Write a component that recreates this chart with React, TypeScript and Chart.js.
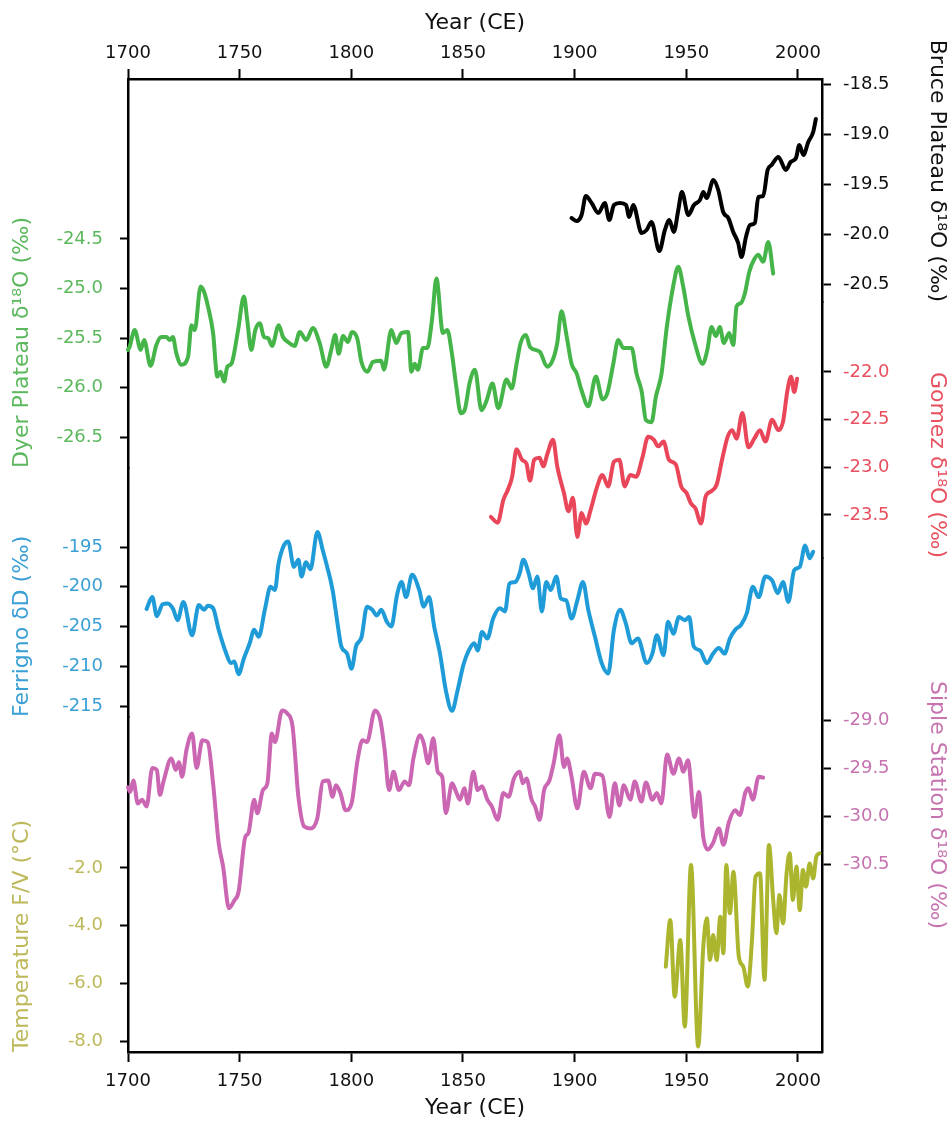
import React, { useEffect, useRef } from "react";
import { Chart, registerables } from "chart.js";

Chart.register(...registerables);

const FONT = "'DejaVu Sans', Verdana, sans-serif";

const yearTicks = [1700, 1750, 1800, 1850, 1900, 1950, 2000];
const bruceTicks = [-18.5, -19.0, -19.5, -20.0, -20.5];
const dyerTicks = [-24.5, -25.0, -25.5, -26.0, -26.5];
const gomezTicks = [-22.0, -22.5, -23.0, -23.5];
const ferrignoTicks = [-195, -200, -205, -210, -215];
const sipleTicks = [-29.0, -29.5, -30.0, -30.5];
const tempTicks = [-2.0, -4.0, -6.0, -8.0];

const bruceYears = [1898.6, 1900.9, 1903.1, 1905.0, 1907.6, 1910.6, 1913.5, 1915.5, 1917.6, 1920.3, 1923.0, 1924.4, 1926.2, 1930.0, 1932.2, 1934.4, 1937.9, 1940.4, 1942.4, 1944.4, 1946.4, 1948.0, 1950.9, 1953.4, 1956.1, 1957.6, 1959.1, 1962.1, 1964.3, 1966.5, 1968.8, 1971.0, 1973.2, 1974.7, 1976.7, 1978.5, 1980.7, 1982.2, 1984.4, 1986.4, 1988.2, 1991.2, 1994.6, 1996.7, 1999.1, 2000.6, 2002.4, 2004.6, 2006.8, 2008.0];
const bruceValues = [-19.84, -19.87, -19.81, -19.62, -19.69, -19.79, -19.69, -19.86, -19.71, -19.69, -19.71, -19.83, -19.71, -19.99, -19.96, -19.88, -20.17, -19.96, -19.86, -19.98, -19.76, -19.58, -19.81, -19.71, -19.66, -19.58, -19.64, -19.46, -19.56, -19.78, -19.84, -19.98, -20.09, -20.23, -20.03, -19.91, -19.89, -19.63, -19.62, -19.36, -19.31, -19.23, -19.36, -19.28, -19.24, -19.11, -19.21, -19.08, -18.98, -18.85];

const dyerYears = [1700.0, 1700.7, 1703.0, 1705.7, 1707.2, 1710.1, 1712.7, 1714.9, 1717.2, 1718.7, 1720.1, 1721.6, 1723.9, 1726.9, 1728.4, 1729.9, 1732.5, 1734.0, 1735.8, 1738.1, 1740.0, 1741.5, 1743.0, 1744.5, 1746.3, 1749.3, 1751.9, 1753.4, 1755.2, 1757.0, 1759.0, 1760.9, 1762.7, 1764.5, 1767.5, 1769.4, 1771.6, 1774.6, 1776.9, 1779.8, 1782.8, 1785.8, 1788.8, 1791.0, 1792.8, 1794.3, 1796.3, 1798.5, 1800.3, 1802.7, 1804.5, 1807.2, 1809.7, 1813.4, 1814.6, 1817.9, 1820.1, 1822.4, 1825.4, 1826.9, 1828.4, 1829.8, 1832.1, 1834.0, 1836.1, 1838.1, 1841.0, 1843.0, 1844.8, 1847.0, 1849.0, 1850.7, 1853.0, 1855.3, 1858.3, 1860.6, 1863.2, 1865.8, 1869.5, 1871.8, 1874.0, 1875.8, 1878.2, 1880.0, 1884.4, 1887.7, 1890.4, 1892.2, 1894.1, 1896.4, 1898.6, 1900.9, 1903.1, 1906.1, 1909.5, 1912.5, 1914.6, 1917.3, 1919.5, 1921.8, 1925.5, 1927.7, 1930.0, 1931.9, 1934.4, 1936.4, 1938.9, 1941.2, 1944.1, 1946.4, 1948.6, 1950.9, 1953.8, 1957.3, 1959.4, 1961.3, 1963.2, 1965.0, 1966.8, 1969.2, 1971.0, 1972.5, 1974.3, 1976.2, 1978.2, 1980.3, 1982.2, 1984.4, 1986.7, 1988.9];
const dyerValues = [-25.62, -25.59, -25.42, -25.62, -25.52, -25.78, -25.57, -25.49, -25.49, -25.52, -25.49, -25.65, -25.77, -25.69, -25.37, -25.42, -24.98, -25.03, -25.18, -25.45, -25.89, -25.84, -25.94, -25.79, -25.76, -25.42, -25.08, -25.32, -25.62, -25.42, -25.35, -25.49, -25.50, -25.58, -25.37, -25.49, -25.54, -25.58, -25.44, -25.52, -25.40, -25.55, -25.79, -25.62, -25.47, -25.66, -25.48, -25.54, -25.44, -25.51, -25.74, -25.84, -25.74, -25.73, -25.82, -25.42, -25.55, -25.45, -25.44, -25.84, -25.76, -25.82, -25.60, -25.60, -25.32, -24.90, -25.45, -25.42, -25.62, -25.99, -26.26, -26.23, -25.95, -25.82, -26.23, -26.13, -25.96, -26.21, -25.92, -26.01, -25.76, -25.55, -25.47, -25.59, -25.64, -25.79, -25.71, -25.55, -25.23, -25.48, -25.76, -25.86, -26.03, -26.19, -25.89, -26.12, -26.06, -25.76, -25.52, -25.60, -25.60, -25.86, -26.04, -26.33, -26.35, -26.09, -25.86, -25.40, -24.98, -24.78, -24.98, -25.28, -25.55, -25.76, -25.62, -25.39, -25.48, -25.39, -25.55, -25.45, -25.57, -25.18, -25.15, -25.05, -24.83, -24.71, -24.66, -24.73, -24.53, -24.85];

const gomezYears = [1862.5, 1865.5, 1868.1, 1870.0, 1872.0, 1874.0, 1876.4, 1878.4, 1880.0, 1881.9, 1884.3, 1885.9, 1887.9, 1890.3, 1892.2, 1895.2, 1897.2, 1899.2, 1901.2, 1903.1, 1905.1, 1907.1, 1910.1, 1912.4, 1915.0, 1917.6, 1920.0, 1922.4, 1924.9, 1927.5, 1930.3, 1932.9, 1935.4, 1937.4, 1939.8, 1942.2, 1945.3, 1947.7, 1950.1, 1952.1, 1954.1, 1956.6, 1958.6, 1961.2, 1963.6, 1966.0, 1968.5, 1970.5, 1972.5, 1975.1, 1977.8, 1980.4, 1983.0, 1985.4, 1988.4, 1991.3, 1993.3, 1995.3, 1996.9, 1998.3, 1999.6];
const gomezValues = [-23.52, -23.58, -23.34, -23.24, -23.10, -22.81, -22.92, -22.96, -23.14, -22.92, -22.90, -22.99, -22.85, -22.71, -22.99, -23.27, -23.46, -23.32, -23.73, -23.48, -23.59, -23.45, -23.20, -23.08, -23.20, -22.94, -22.92, -23.20, -23.08, -23.10, -22.90, -22.68, -22.71, -22.78, -22.73, -22.92, -22.97, -23.20, -23.27, -23.38, -23.43, -23.59, -23.31, -23.25, -23.18, -22.92, -22.68, -22.61, -22.70, -22.43, -22.79, -22.70, -22.61, -22.73, -22.50, -22.61, -22.52, -22.19, -22.05, -22.21, -22.07];

const ferrignoYears = [1708.3, 1710.9, 1712.9, 1715.5, 1717.8, 1720.2, 1722.2, 1724.8, 1728.7, 1731.7, 1734.1, 1735.7, 1738.1, 1740.6, 1744.0, 1746.0, 1747.6, 1749.5, 1751.9, 1754.5, 1756.5, 1758.5, 1761.4, 1763.8, 1765.8, 1767.4, 1769.8, 1771.7, 1774.3, 1776.3, 1777.7, 1779.7, 1781.7, 1784.8, 1787.2, 1789.2, 1791.6, 1793.5, 1795.5, 1798.1, 1800.1, 1802.1, 1804.6, 1807.0, 1809.4, 1811.4, 1813.4, 1815.9, 1817.9, 1820.5, 1822.5, 1824.5, 1827.2, 1830.4, 1832.4, 1834.8, 1837.1, 1839.7, 1842.3, 1845.1, 1847.6, 1850.2, 1852.6, 1855.0, 1856.6, 1858.5, 1860.9, 1863.5, 1866.5, 1868.8, 1870.8, 1873.4, 1875.4, 1877.0, 1879.4, 1881.3, 1883.3, 1885.3, 1887.3, 1889.3, 1891.8, 1893.8, 1896.2, 1898.6, 1901.2, 1903.7, 1906.1, 1909.1, 1912.1, 1915.0, 1917.6, 1920.4, 1922.9, 1925.5, 1928.3, 1932.3, 1934.8, 1936.8, 1939.8, 1941.8, 1944.2, 1946.7, 1949.3, 1951.3, 1953.3, 1956.1, 1959.2, 1962.0, 1964.6, 1967.1, 1969.5, 1971.9, 1974.5, 1977.1, 1979.8, 1982.4, 1985.4, 1988.4, 1990.9, 1993.3, 1995.7, 1998.3, 2000.8, 2003.2, 2005.2, 2006.8];
const ferrignoValues = [-202.8, -201.3, -203.7, -202.2, -202.1, -202.8, -204.2, -201.9, -206.1, -202.3, -202.9, -202.4, -202.7, -205.4, -208.4, -209.6, -209.4, -211.0, -209.0, -207.1, -205.4, -206.3, -202.7, -200.0, -200.4, -197.1, -194.8, -194.3, -197.5, -196.6, -198.7, -196.9, -197.8, -193.1, -195.4, -197.5, -200.4, -204.0, -207.5, -208.4, -210.3, -207.5, -206.3, -202.5, -202.9, -203.6, -202.9, -204.4, -205.0, -201.0, -199.4, -201.3, -198.5, -200.4, -202.5, -201.3, -205.0, -208.4, -213.0, -215.6, -213.0, -209.8, -208.0, -207.1, -208.0, -205.7, -206.5, -204.0, -202.7, -203.1, -199.6, -199.4, -198.3, -196.6, -198.3, -200.2, -198.7, -203.1, -199.4, -200.4, -198.7, -201.5, -201.7, -204.0, -201.7, -199.4, -202.9, -206.3, -209.6, -210.9, -205.4, -202.9, -204.6, -207.1, -206.5, -209.6, -208.4, -206.1, -208.6, -204.4, -205.9, -203.8, -204.2, -203.8, -207.5, -208.0, -209.6, -208.4, -207.7, -208.4, -206.5, -205.4, -204.8, -203.3, -200.0, -201.3, -198.7, -199.2, -200.8, -199.4, -201.9, -197.9, -197.5, -194.8, -196.4, -195.6];

const sipleYears = [1700.0, 1701.0, 1702.4, 1704.4, 1706.3, 1708.3, 1710.9, 1712.9, 1714.3, 1715.9, 1719.4, 1721.4, 1722.8, 1724.2, 1726.2, 1728.7, 1730.7, 1733.3, 1735.7, 1738.1, 1740.6, 1742.6, 1745.2, 1747.6, 1749.5, 1752.5, 1753.9, 1756.5, 1757.9, 1760.4, 1762.4, 1764.4, 1765.8, 1769.0, 1771.3, 1773.7, 1776.3, 1778.9, 1781.7, 1784.8, 1787.2, 1789.6, 1791.6, 1793.1, 1795.1, 1797.5, 1800.1, 1802.7, 1805.0, 1807.0, 1810.6, 1813.0, 1814.9, 1816.9, 1818.9, 1821.3, 1823.9, 1825.8, 1827.8, 1830.8, 1832.4, 1834.4, 1836.7, 1838.7, 1840.7, 1842.3, 1845.1, 1847.1, 1848.6, 1850.6, 1852.2, 1854.6, 1856.6, 1858.5, 1860.9, 1862.9, 1865.5, 1868.1, 1870.4, 1872.8, 1875.4, 1876.8, 1878.4, 1880.7, 1882.3, 1884.3, 1886.3, 1888.7, 1890.6, 1893.2, 1895.2, 1896.6, 1898.6, 1901.2, 1904.1, 1907.1, 1909.1, 1912.4, 1915.6, 1918.0, 1920.0, 1922.0, 1924.9, 1926.9, 1929.9, 1931.9, 1934.8, 1936.8, 1938.8, 1941.4, 1944.2, 1946.7, 1948.7, 1950.7, 1953.7, 1955.6, 1957.6, 1959.6, 1962.0, 1964.6, 1966.6, 1969.1, 1971.9, 1973.9, 1976.5, 1977.8, 1979.8, 1982.4, 1984.4];
const sipleValues = [-29.70, -29.75, -29.63, -29.87, -29.83, -29.90, -29.50, -29.52, -29.78, -29.64, -29.40, -29.52, -29.44, -29.59, -29.31, -29.14, -29.50, -29.21, -29.23, -29.66, -30.28, -30.53, -30.96, -30.88, -30.79, -30.22, -30.18, -29.83, -29.97, -29.73, -29.66, -29.14, -29.23, -28.90, -28.93, -29.07, -29.80, -30.11, -30.13, -30.02, -29.64, -29.63, -29.80, -29.68, -29.76, -29.94, -29.87, -29.43, -29.21, -29.23, -28.90, -29.00, -29.31, -29.73, -29.54, -29.73, -29.64, -29.68, -29.40, -29.16, -29.24, -29.45, -29.19, -29.54, -29.59, -29.97, -29.66, -29.76, -29.83, -29.71, -29.87, -29.54, -29.73, -29.69, -29.83, -29.90, -30.04, -29.76, -29.80, -29.61, -29.54, -29.66, -29.61, -29.83, -29.90, -30.04, -29.73, -29.63, -29.45, -29.16, -29.49, -29.40, -29.59, -29.92, -29.54, -29.71, -29.56, -29.58, -30.01, -29.66, -29.89, -29.68, -29.83, -29.64, -29.85, -29.65, -29.83, -29.76, -29.87, -29.36, -29.56, -29.40, -29.54, -29.42, -30.01, -29.75, -30.22, -30.35, -30.28, -30.13, -30.30, -30.06, -29.94, -29.99, -29.75, -29.71, -29.83, -29.59, -29.60];

const tempYears = [1940.8, 1942.8, 1944.8, 1947.3, 1949.3, 1952.1, 1955.3, 1957.6, 1959.2, 1960.6, 1962.0, 1963.6, 1965.2, 1966.6, 1967.9, 1969.5, 1971.1, 1973.5, 1975.5, 1977.5, 1979.4, 1981.0, 1983.0, 1985.0, 1987.0, 1988.9, 1990.3, 1991.7, 1993.3, 1994.9, 1996.3, 1997.7, 1999.3, 2000.8, 2002.2, 2003.6, 2005.2, 2006.8, 2008.2, 2009.6];
const tempValues = [-5.42, -3.80, -6.46, -4.50, -7.50, -1.90, -8.19, -4.73, -3.74, -5.19, -4.32, -5.19, -3.69, -4.96, -1.90, -3.57, -2.13, -5.07, -5.42, -6.11, -4.50, -2.30, -2.18, -5.88, -1.20, -3.11, -4.26, -2.94, -3.92, -2.18, -1.49, -3.11, -1.95, -3.46, -2.07, -2.65, -1.84, -2.36, -1.61, -1.49];

const toPoints = (xs: number[], ys: number[]) => xs.map((x, i) => ({ x, y: ys[i] }));

function yAxis(p: any) {
  return {
    type: "linear",
    position: p.position,
    stack: p.stackName,
    stackWeight: p.stackWeight,
    weight: p.weight,
    min: p.min,
    max: p.max,
    clip: false,
    afterBuildTicks: (s: any) => {
      s.ticks = p.ticks.map((v: number) => ({ value: v }));
    },
    afterFit: (s: any) => {
      s.width = 128;
    },
    ticks: {
      color: p.color,
      font: { family: FONT, size: 18 },
      padding: p.position === "left" ? 17 : 12,
      autoSkip: false,
      callback: (v: any) => Number(v).toFixed(p.decimals),
    },
    grid: {
      drawOnChartArea: false,
      drawTicks: true,
      tickLength: p.position === "left" ? 8 : 9,
      tickColor: "#000",
      tickWidth: 2,
    },
    border: { display: true, color: "#000", width: 2.5 },
    title: {
      display: true,
      text: p.title,
      color: p.color,
      align: p.align,
      font: { family: FONT, size: 22 },
      padding: p.position === "left" ? { top: 9, bottom: 0 } : { top: 0, bottom: 0 },
    },
  };
}

function xAxis(position: string, height: number, tickPad: number, titlePad: any) {
  return {
    type: "linear",
    position,
    min: 1700,
    max: 2010.75,
    afterBuildTicks: (s: any) => {
      s.ticks = yearTicks.map((v) => ({ value: v }));
    },
    afterFit: (s: any) => {
      s.height = height;
    },
    ticks: {
      color: "#111",
      font: { family: FONT, size: 18 },
      padding: tickPad,
      maxRotation: 0,
      autoSkip: false,
      callback: (v: any) => String(v),
    },
    grid: { drawOnChartArea: false, drawTicks: true, tickLength: 10, tickColor: "#000", tickWidth: 2 },
    border: { display: true, color: "#000", width: 2.5 },
    title: {
      display: true,
      text: "Year (CE)",
      color: "#111",
      font: { family: FONT, size: 22 },
      padding: titlePad,
    },
  };
}

export default function App() {
  const ref = useRef<HTMLCanvasElement | null>(null);
  useEffect(() => {
    document.body.style.margin = "0";
    const line = (label: string, xs: number[], ys: number[], axis: string, color: string) => ({
      label,
      data: toPoints(xs, ys),
      xAxisID: "x",
      yAxisID: axis,
      borderColor: color,
      backgroundColor: color,
      borderWidth: 4,
      pointRadius: 0,
      cubicInterpolationMode: "monotone",
      borderJoinStyle: "round",
      borderCapStyle: "round",
      fill: false,
      clip: false,
    });
    const chart = new Chart(ref.current as HTMLCanvasElement, {
      type: "line",
      data: {
        datasets: [
          line("Bruce Plateau", bruceYears, bruceValues, "yBruce", "#000000"),
          line("Dyer Plateau", dyerYears, dyerValues, "yDyer", "#45b549"),
          line("Gomez", gomezYears, gomezValues, "yGomez", "#e9465a"),
          line("Ferrigno", ferrignoYears, ferrignoValues, "yFerrigno", "#1f9bd7"),
          line("Siple Station", sipleYears, sipleValues, "ySiple", "#cb66b3"),
          line("Temperature F/V", tempYears, tempValues, "yTemp", "#acb52e"),
        ],
      },
      options: {
        animation: false,
        responsive: false,
        maintainAspectRatio: false,
        devicePixelRatio: 1,
        layout: { padding: 0 },
        plugins: { legend: { display: false }, tooltip: { enabled: false } },
        scales: {
          x: xAxis("bottom", 71, 9, { top: 0, bottom: 2 }),
          xTop: xAxis("top", 79, 5, { top: 10, bottom: 0 }),
          yDyer: yAxis({ position: "left", stackName: "L", stackWeight: 389, weight: 3, min: -26.813, max: -22.884, ticks: dyerTicks, decimals: 1, color: "#5cb85c", title: "Dyer Plateau δ¹⁸O (‰)", align: "start" }),
          yFerrigno: yAxis({ position: "left", stackName: "L", stackWeight: 249, weight: 2, min: -216.38, max: -185.06, ticks: ferrignoTicks, decimals: 0, color: "#3a9fd5", title: "Ferrigno δD (‰)", align: "start" }),
          yTemp: yAxis({ position: "left", stackName: "L", stackWeight: 335, weight: 1, min: -8.378, max: 3.234, ticks: tempTicks, decimals: 1, color: "#bdb85a", title: "Temperature F/V (°C)", align: "start" }),
          yBruce: yAxis({ position: "right", stackName: "R", stackWeight: 223, weight: 1, min: -20.68, max: -18.45, ticks: bruceTicks, decimals: 1, color: "#111111", title: "Bruce Plateau δ¹⁸O (‰)", align: "start" }),
          yGomez: yAxis({ position: "right", stackName: "R", stackWeight: 256, weight: 2, min: -23.951, max: -21.266, ticks: gomezTicks, decimals: 1, color: "#e8505f", title: "Gomez δ¹⁸O (‰)", align: "start" }),
          ySiple: yAxis({ position: "right", stackName: "R", stackWeight: 494, weight: 3, min: -32.458, max: -27.3125, ticks: sipleTicks, decimals: 1, color: "#c673b0", title: "Siple Station δ¹⁸O (‰)", align: "center" }),
        },
      } as any,
    });
    return () => chart.destroy();
  }, []);
  return (
    <div style={{ width: 950, height: 1123 }}>
      <canvas ref={ref} width={950} height={1123} style={{ width: 950, height: 1123, display: "block" }} />
    </div>
  );
}
